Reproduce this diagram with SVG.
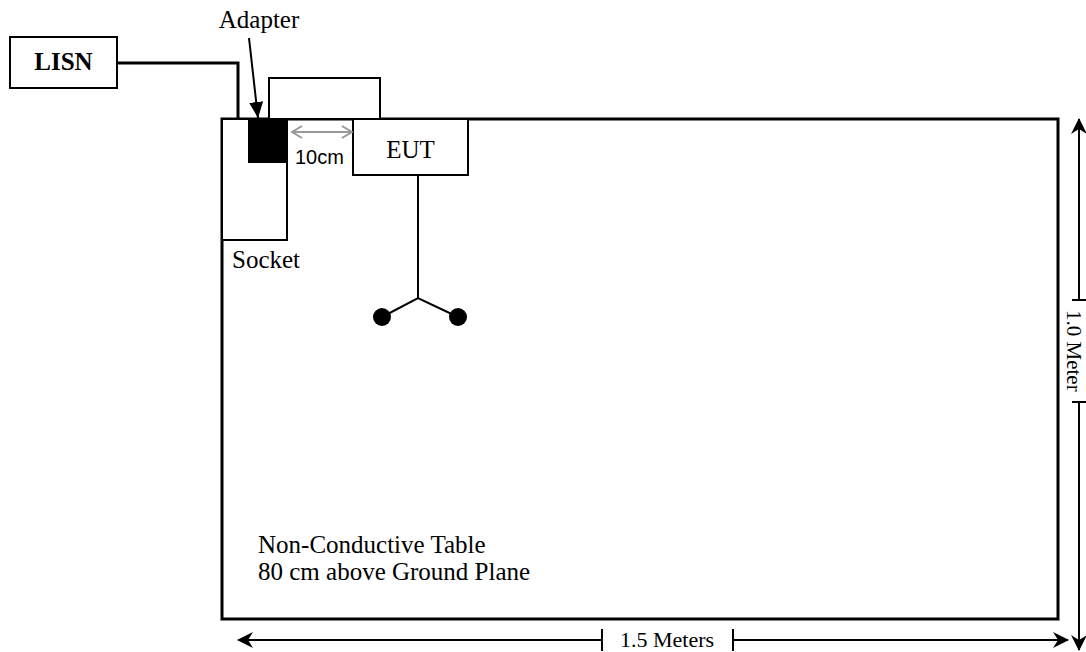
<svg xmlns="http://www.w3.org/2000/svg" width="1086" height="652" viewBox="0 0 1086 652">
<style>
.t{font-family:"Liberation Serif","Times New Roman",serif;font-size:25px;fill:#000}
.b{font-weight:bold}
.d{font-size:22px}
.a{font-family:"Liberation Sans",Arial,sans-serif;font-size:20px;fill:#000}
.box{fill:#fff;stroke:#000;stroke-width:2}
.ln{fill:none;stroke:#000;stroke-width:2}
</style>
<defs>
<marker id="ah" viewBox="0 0 20 16" refX="19" refY="8" markerWidth="20" markerHeight="16" markerUnits="userSpaceOnUse" orient="auto">
<path d="M20,8 L4,0 L9,8 L4,16 Z" fill="#000"/>
</marker>
<marker id="ag" viewBox="0 0 12 14" refX="11" refY="7" markerWidth="12" markerHeight="14" markerUnits="userSpaceOnUse" orient="auto-start-reverse">
<path d="M1,1 L11,7 L1,13" fill="none" stroke="#999" stroke-width="2"/>
</marker>
<marker id="aa" viewBox="0 0 16 14" refX="16" refY="7" markerWidth="16" markerHeight="14" markerUnits="userSpaceOnUse" orient="auto">
<path d="M0,0 L16,7 L0,14 Z" fill="#000"/>
</marker>
</defs>
<g id="table">
<rect x="222" y="119" width="836" height="500" fill="#fff" stroke="#000" stroke-width="3"/>
<text class="t" x="258" y="553">Non-Conductive Table</text>
<text class="t" x="258" y="580">80 cm above Ground Plane</text>
</g>
<g id="lisn">
<rect class="box" x="10" y="37" width="107" height="51"/>
<text class="t b" x="63.5" y="70" text-anchor="middle">LISN</text>
</g>
<g id="cable-box">
<rect class="box" x="269" y="78" width="111" height="41"/>
</g>
<g id="socket">
<rect class="box" x="222" y="119" width="65" height="121"/>
<text class="t" x="232" y="268">Socket</text>
</g>
<g id="adapter">
<rect x="248" y="119" width="39" height="44" fill="#000"/>
<text class="t" x="259" y="28" text-anchor="middle">Adapter</text>
</g>
<g id="eut">
<rect class="box" x="353" y="119" width="115" height="56"/>
<text class="t" x="410.5" y="158" text-anchor="middle">EUT</text>
</g>
<g id="connectors">
<polyline points="117,63 238,63 238,119" fill="none" stroke="#000" stroke-width="3"/>
<line x1="249" y1="38" x2="258" y2="118" stroke="#000" stroke-width="2" marker-end="url(#aa)"/>
<line x1="292" y1="132" x2="352" y2="132" stroke="#999" stroke-width="2" marker-start="url(#ag)" marker-end="url(#ag)"/>
<text class="a" x="295" y="164">10cm</text>
<polyline points="418,175 418,298" class="ln"/>
<polyline points="382,317 418,298 458,317" class="ln"/>
<circle cx="382" cy="317" r="9" fill="#000"/>
<circle cx="458" cy="317" r="9" fill="#000"/>
<line x1="602" y1="640" x2="238" y2="640" class="ln" marker-end="url(#ah)"/>
<line x1="733" y1="640" x2="1068" y2="640" class="ln" marker-end="url(#ah)"/>
<line x1="602" y1="629" x2="602" y2="651" class="ln"/>
<line x1="733" y1="629" x2="733" y2="651" class="ln"/>
<text class="t d" x="620" y="647">1.5 Meters</text>
<line x1="1079" y1="300" x2="1079" y2="119" class="ln" marker-end="url(#ah)"/>
<line x1="1079" y1="402" x2="1079" y2="650" class="ln" marker-end="url(#ah)"/>
<line x1="1072" y1="300" x2="1086" y2="300" class="ln"/>
<line x1="1072" y1="402" x2="1086" y2="402" class="ln"/>
<text class="t d" transform="translate(1067,310) rotate(90)" style="font-size:21px">1.0 Meter</text>
</g>
</svg>
